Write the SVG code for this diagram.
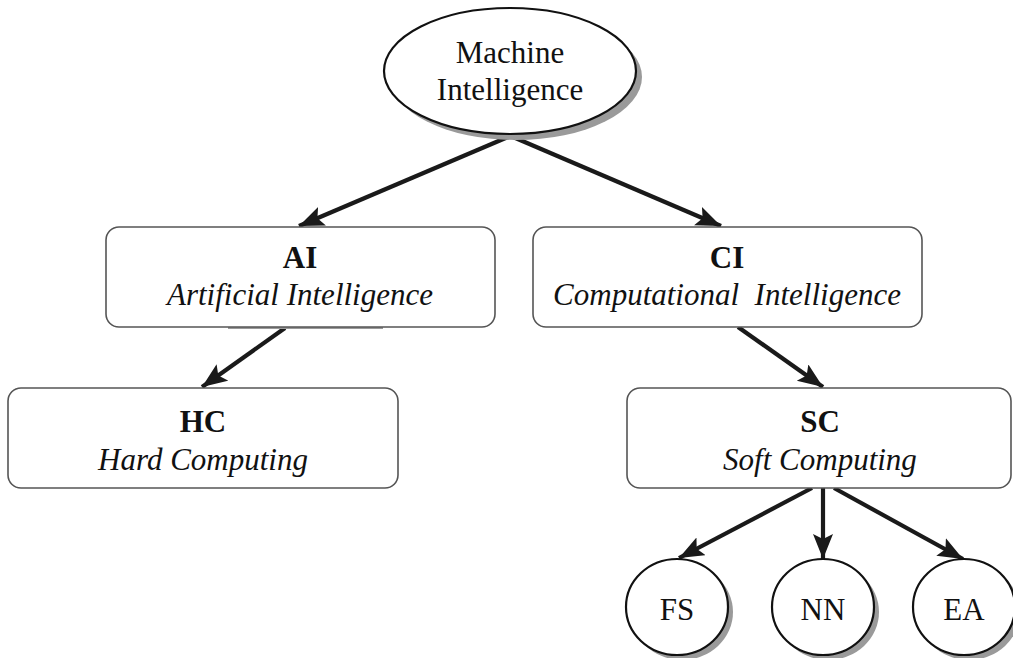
<svg xmlns="http://www.w3.org/2000/svg" width="1013" height="658" viewBox="0 0 1013 658">
<style>
.box{fill:#fff;stroke:#555;stroke-width:1.6}
.ell{fill:#fff;stroke:#111;stroke-width:2.2}
.shadow{fill:#9a9a9a}
.t{font-family:"Liberation Serif","Times New Roman",serif;font-size:31px;fill:#111;text-anchor:middle}
.b{font-weight:bold}
.i{font-style:italic}
.edge{stroke:#1a1a1a;stroke-width:4.2;fill:none;marker-end:url(#ah)}
</style>
<defs>
<marker id="ah" markerUnits="userSpaceOnUse" markerWidth="28" markerHeight="22" refX="25" refY="10" orient="auto">
<path d="M0,0 L25,10 L0,20 L5,10 Z" fill="#1a1a1a"/>
</marker>
</defs>
<rect width="1013" height="658" fill="#fff"/>
<g id="connectors">
<line class="edge" x1="508" y1="137" x2="299" y2="226"/>
<line class="edge" x1="513" y1="137" x2="721" y2="226"/>
<line class="edge" x1="285" y1="328" x2="202" y2="387"/>
<line class="edge" x1="738" y1="327" x2="823" y2="387"/>
<line class="edge" x1="812" y1="488" x2="679" y2="558"/>
<line class="edge" x1="823" y1="488" x2="823" y2="559"/>
<line class="edge" x1="834" y1="488" x2="963" y2="559"/>
</g>
<g id="node-mi">
<ellipse class="shadow" cx="516" cy="77" rx="126" ry="63"/>
<ellipse class="ell" cx="510" cy="71" rx="126" ry="63"/>
<text class="t" x="510" y="63">Machine</text>
<text class="t" x="510" y="100">Intelligence</text>
</g>
<g id="node-ai">
<rect class="shadow" x="228" y="315" width="155" height="14"/>
<rect class="box" x="106" y="227" width="389" height="100" rx="13"/>
<text class="t b" x="300" y="268">AI</text>
<text class="t i" x="300" y="305">Artificial Intelligence</text>
</g>
<g id="node-ci">
<rect class="box" x="533" y="227" width="389" height="100" rx="13"/>
<text class="t b" x="727" y="268">CI</text>
<text class="t i" x="727" y="305" xml:space="preserve">Computational  Intelligence</text>
</g>
<g id="node-hc">
<rect class="box" x="8" y="388" width="390" height="100" rx="13"/>
<text class="t b" x="203" y="432">HC</text>
<text class="t i" x="203" y="470">Hard Computing</text>
</g>
<g id="node-sc">
<rect class="box" x="627" y="388" width="384" height="100" rx="13"/>
<text class="t b" x="820" y="432">SC</text>
<text class="t i" x="820" y="470">Soft Computing</text>
</g>
<g id="node-fs">
<ellipse class="shadow" cx="682" cy="612" rx="51" ry="48"/>
<ellipse class="ell" cx="677" cy="607" rx="51" ry="48"/>
<text class="t" x="677" y="620">FS</text>
</g>
<g id="node-nn">
<ellipse class="shadow" cx="828" cy="612" rx="51" ry="48"/>
<ellipse class="ell" cx="823" cy="607" rx="51" ry="48"/>
<text class="t" x="823" y="620">NN</text>
</g>
<g id="node-ea">
<ellipse class="shadow" cx="969" cy="612" rx="51" ry="48"/>
<ellipse class="ell" cx="964" cy="607" rx="51" ry="48"/>
<text class="t" x="964" y="620">EA</text>
</g>
</svg>
